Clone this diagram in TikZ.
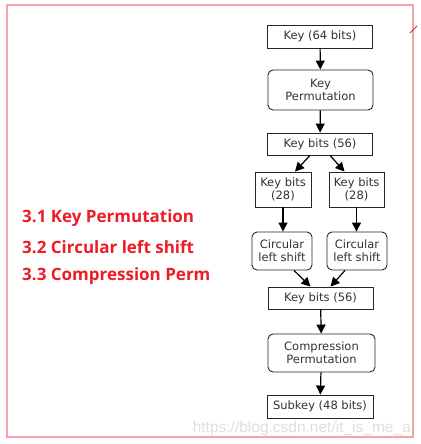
\documentclass[tikz,border=0pt]{standalone}
\usepackage{fontspec}
\setmainfont{DejaVu Sans}
\newfontfamily\redfont{Open Sans}
\newfontfamily\wmfont{Liberation Sans}
\usetikzlibrary{arrows.meta}
\definecolor{framered}{HTML}{F5A3A8}
\definecolor{txtred}{HTML}{EE1C25}
\begin{document}
\begin{tikzpicture}[x=1pt,y=-1pt,
  box/.style={draw=black!85, line width=0.9pt, fill=white, inner sep=0pt, align=center,
    font=\fontsize{11.5}{13}\selectfont, text=black!80},
  rbox/.style={box, rounded corners=5pt},
  arr/.style={draw=black, line width=1.2pt, -{Triangle[width=9pt,length=9pt]}},
  redlabel/.style={anchor=west, inner sep=0pt, text=txtred, font=\redfont\bfseries\fontsize{17}{19}\selectfont}]
\path[use as bounding box] (0,0) rectangle (420,444);
\draw[framered, line width=1.2pt] (7,5) rectangle (413,437);
\draw[txtred, line width=1pt] (410,33) -- (417,26);

\node[box, minimum width=105, minimum height=23] (k64) at (320,36.5) {Key (64 bits)};
\node[rbox, minimum width=105, minimum height=40] (kp) at (320.5,90) {Key\\Permutation};
\node[box, minimum width=105, minimum height=22] (k56a) at (320,144) {Key bits (56)};
\node[box, minimum width=56, minimum height=35] (k28l) at (283,189.5) {Key bits\\(28)};
\node[box, minimum width=55, minimum height=35] (k28r) at (356.5,189.5) {Key bits\\(28)};
\node[rbox, minimum width=60, minimum height=38] (csl) at (282,251) {Circular\\left shift};
\node[rbox, minimum width=60, minimum height=38] (csr) at (357,251) {Circular\\left shift};
\node[box, minimum width=105, minimum height=22] (k56b) at (320.5,298) {Key bits (56)};
\node[rbox, minimum width=107, minimum height=38] (cp) at (321.5,353) {Compression\\Permutation};
\node[box, minimum width=106, minimum height=23] (sk) at (320,406.5) {Subkey (48 bits)};

\draw[arr] (k64) -- (kp);
\draw[arr] (kp) -- (k56a);
\draw[arr] ([xshift=-10pt]k56a.south) -- ([xshift=12pt]k28l.north);
\draw[arr] ([xshift=10pt]k56a.south) -- ([xshift=-12pt]k28r.north);
\draw[arr] (k28l.south) -- (k28l.south |- csl.north);
\draw[arr] (k28r.south) -- (k28r.south |- csr.north);
\draw[arr] ([xshift=12pt]csl.south) -- ([xshift=-10pt]k56b.north);
\draw[arr] ([xshift=-12pt]csr.south) -- ([xshift=10pt]k56b.north);
\draw[arr] (k56b) -- (cp);
\draw[arr] (cp) -- (sk);

\node[redlabel] (l1) at (22,218) {3.1 Key Permutation};
\node[redlabel] (l2) at (22,247) {3.2 Circular left shift};
\node[redlabel] (l3) at (22,276) {3.3 Compression Perm};

\node[anchor=east, inner sep=0pt, text=black!13, font=\wmfont\fontsize{15.5}{17}\selectfont] (wm) at (411,428) {https://blog.csdn.net/it\_is\_me\_a};
\end{tikzpicture}
\end{document}
